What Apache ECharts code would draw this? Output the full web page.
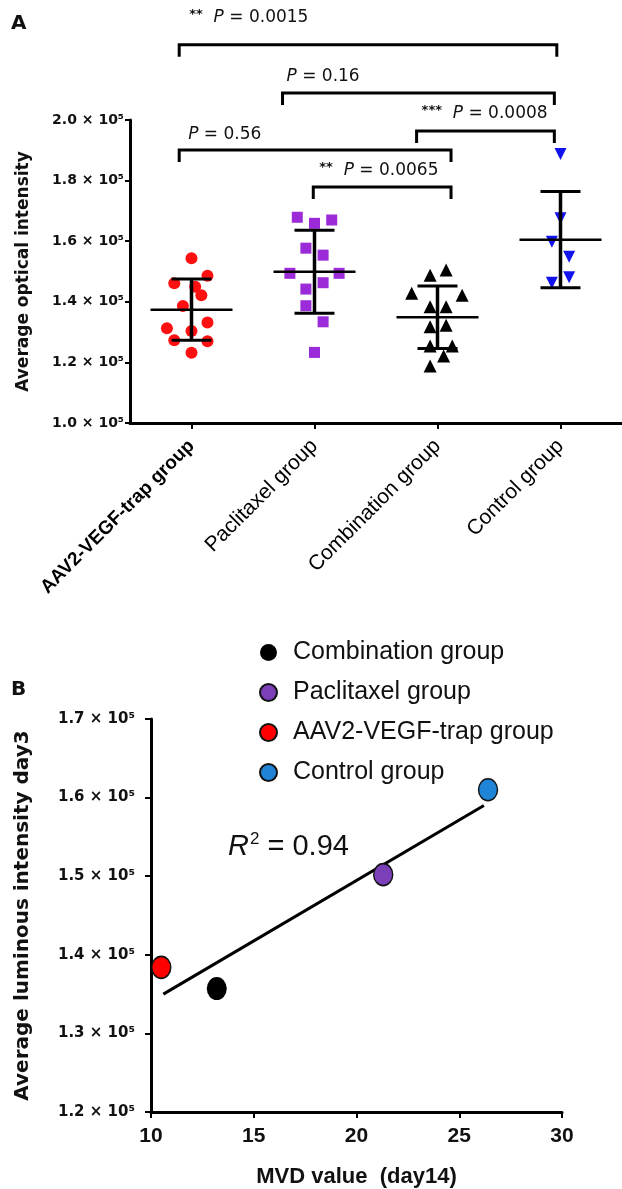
<!DOCTYPE html>
<html><head><meta charset="utf-8">
<script src="https://cdn.jsdelivr.net/npm/echarts@6/dist/echarts.min.js"></script>
<style>html,body{margin:0;padding:0;background:#fff}#c{width:622px;height:1189px}</style>
</head><body><div id="c"></div>
<script>
// ---------- Panel A data ----------
const categories = ['AAV2-VEGF-trap group', 'Paclitaxel group', 'Combination group', 'Control group'];
const aavValues = [1.544, 1.486, 1.461, 1.450, 1.422, 1.386, 1.332, 1.313, 1.304, 1.273, 1.270, 1.232];
const aavJitter = [0, 0.13, -0.14, 0.03, 0.08, -0.07, 0.13, -0.2, 0, -0.14, 0.13, 0];
const pacValues = [1.679, 1.659, 1.670, 1.577, 1.554, 1.494, 1.494, 1.463, 1.442, 1.387, 1.334, 1.233];
const pacJitter = [-0.14, 0, 0.14, -0.07, 0.07, -0.2, 0.2, 0.07, -0.07, -0.07, 0.07, 0];
const comValues = [1.505, 1.488, 1.428, 1.422, 1.384, 1.384, 1.323, 1.318, 1.254, 1.254, 1.221, 1.188];
const comJitter = [0.07, -0.06, -0.21, 0.2, -0.06, 0.07, 0.07, -0.06, -0.06, 0.12, 0.05, -0.06];
const ctlValues = [1.888, 1.676, 1.598, 1.549, 1.481, 1.463];
const ctlJitter = [0, 0, -0.07, 0.07, 0.07, -0.07];
const groupMeans = [1.374, 1.499, 1.349, 1.605];
const groupSD = [0.101, 0.137, 0.103, 0.159];
const yTickStepA = 0.2;
// significance brackets
const bracketFrom = [0, 1, 2, 0, 1];
const bracketTo = [3, 3, 3, 2, 2];
const bracketStars = ['**', '', '***', '', '**'];
const bracketP = ['0.0015', '0.16', '0.0008', '0.56', '0.0065'];

// ---------- Panel B data ----------
const groupsB = ['Combination group', 'Paclitaxel group', 'AAV2-VEGF-trap group', 'Control group'];
const mvdB = [13.2, 21.3, 10.5, 26.4];
const lumB = [1.357, 1.502, 1.384, 1.610];
const fitX = [10.6, 26.2];
const fitY = [1.35, 1.59];
const r2Text = '0.94';

// ---------- layout / style (not data) ----------
const bracketLayout = {
  level: [2.248, 2.089, 1.964, 1.901, 1.779],
  fromShift: [-0.10, -0.26, -0.17, -0.10, -0.01],
  toShift: [-0.03, -0.05, -0.05, 0.11, 0.11],
  textDx: [10, 4, 5, 9, 6],
  textDy: [-27, -16, -17, -15, -16]
};
const colorsA = ['#ff1010', '#9b2ad8', '#000000', '#1212ee'];
const colorsB = { 'Combination group': '#000000', 'Paclitaxel group': '#7b3fb8', 'AAV2-VEGF-trap group': '#ff0000', 'Control group': '#1f84d6' };
const ellipse = 'path://M0,-1A1,1 0 1,1 0,1A1,1 0 1,1 0,-1Z';
const TXT = '#111';

const chart = echarts.init(document.getElementById('c'), null, { renderer: 'canvas' });

function pts(values, jitter, g) { return values.map((v, k) => [g + jitter[k], v]); }

const bracketData = bracketFrom.map((f, i) => [f + bracketLayout.fromShift[i], bracketTo[i] + bracketLayout.toShift[i], bracketLayout.level[i]]);

const series = [];
const symA = [
  { symbol: 'circle', size: 12, rot: 0 },
  { symbol: 'rect', size: 11, rot: 0 },
  { symbol: 'triangle', size: 13, rot: 0 },
  { symbol: 'triangle', size: 12, rot: 180 }
];
[[aavValues, aavJitter], [pacValues, pacJitter], [comValues, comJitter], [ctlValues, ctlJitter]].forEach((pair, g) => {
  series.push({
    type: 'scatter', id: 'A' + g, xAxisIndex: 1, yAxisIndex: 0,
    symbol: symA[g].symbol, symbolSize: symA[g].size, symbolRotate: symA[g].rot,
    itemStyle: { color: colorsA[g], opacity: 1 },
    data: pts(pair[0], pair[1], g), z: 2
  });
});
series.push({
  type: 'custom', id: 'meanSD', xAxisIndex: 1, yAxisIndex: 0, z: 5,
  data: groupMeans.map((m, g) => [g, m, groupSD[g]]),
  encode: { x: 0, y: 1 },
  renderItem: function (params, api) {
    const g = api.value(0), m = api.value(1), s = api.value(2);
    const c = api.coord([g, m]), hi = api.coord([g, m + s]), lo = api.coord([g, m - s]);
    const st = { stroke: '#000', lineWidth: 3 };
    return {
      type: 'group', children: [
        { type: 'line', shape: { x1: c[0] - 41, y1: c[1], x2: c[0] + 41, y2: c[1] }, style: { stroke: '#000', lineWidth: 2.5 } },
        { type: 'line', shape: { x1: c[0], y1: hi[1], x2: c[0], y2: lo[1] }, style: { stroke: '#000', lineWidth: 3.5 } },
        { type: 'line', shape: { x1: c[0] - 20, y1: hi[1], x2: c[0] + 20, y2: hi[1] }, style: st },
        { type: 'line', shape: { x1: c[0] - 20, y1: lo[1], x2: c[0] + 20, y2: lo[1] }, style: st }
      ]
    };
  }
});
series.push({
  type: 'custom', id: 'brackets', xAxisIndex: 1, yAxisIndex: 0, z: 6, clip: false,
  data: bracketData,
  encode: { x: [0, 1], y: 2 },
  renderItem: function (params, api) {
    const i = params.dataIndex;
    const p1 = api.coord([api.value(0), api.value(2)]);
    const p2 = api.coord([api.value(1), api.value(2)]);
    const tip = 12;
    const stars = bracketStars[i] ? '{s|' + bracketStars[i] + '}  ' : '';
    return {
      type: 'group', children: [
        { type: 'polyline', shape: { points: [[p1[0], p1[1] + tip], [p1[0], p1[1]], [p2[0], p2[1]], [p2[0], p2[1] + tip]] }, style: { stroke: '#000', lineWidth: 3, fill: null } },
        {
          type: 'text', x: p1[0] + bracketLayout.textDx[i], y: p1[1] + bracketLayout.textDy[i],
          style: {
            text: stars + '{i|P} = ' + bracketP[i], align: 'left', verticalAlign: 'middle',
            fontFamily: 'DejaVu Sans', fontSize: 17, fill: TXT,
            rich: {
              s: { fontFamily: 'DejaVu Sans', fontSize: 13, fontWeight: 'bold', fill: TXT, padding: [0, 0, 6, 0] },
              i: { fontFamily: 'DejaVu Sans', fontSize: 17, fontStyle: 'italic', fill: TXT }
            }
          }
        }
      ]
    };
  }
});
groupsB.forEach((name, k) => {
  const isBlack = name === 'Combination group';
  series.push({
    type: 'scatter', name: name, xAxisIndex: 2, yAxisIndex: 1,
    symbol: ellipse, symbolSize: isBlack ? [20, 23] : [19, 22],
    itemStyle: { color: colorsB[name], borderColor: '#111', borderWidth: isBlack ? 0 : 1.5, opacity: 1 },
    data: [[mvdB[k], lumB[k]]], z: 4
  });
});
series.push({
  type: 'line', id: 'fit', xAxisIndex: 2, yAxisIndex: 1, showSymbol: false, symbol: 'none',
  lineStyle: { color: '#000', width: 3 }, data: fitX.map((x, k) => [x, fitY[k]]), z: 3
});

const axisLineStyle = { show: true, onZero: false, lineStyle: { color: '#000', width: 3 } };

const option = {
  animation: false,
  backgroundColor: '#fff',
  textStyle: { fontFamily: 'DejaVu Sans' },
  grid: [
    { left: 130, top: 120, width: 495, height: 303 },
    { left: 151, top: 719, width: 411, height: 393 }
  ],
  xAxis: [
    {
      gridIndex: 0, type: 'category', data: categories, boundaryGap: true,
      axisLine: axisLineStyle,
      axisTick: { show: true, alignWithLabel: true, length: 6, lineStyle: { width: 2, color: '#000' } },
      axisLabel: {
        rotate: 45, margin: 20, color: '#000', fontFamily: 'Liberation Sans', fontSize: 21,
        formatter: function (v, i) { return i === 0 ? '{b|' + v + '}' : v; },
        rich: { b: { fontWeight: 'bold', fontFamily: 'Liberation Sans', fontSize: 19, color: '#000' } }
      },
      splitLine: { show: false }
    },
    { gridIndex: 0, type: 'value', min: -0.5, max: 3.5, show: false },
    {
      gridIndex: 1, type: 'value', min: 10, max: 30, interval: 5,
      axisLine: axisLineStyle,
      axisTick: { show: true, length: 6, lineStyle: { width: 2, color: '#000' } },
      axisLabel: { margin: 14, color: TXT, fontFamily: 'Liberation Sans', fontWeight: 'bold', fontSize: 21 },
      splitLine: { show: false },
      name: 'MVD value  (day14)', nameLocation: 'middle', nameGap: 54,
      nameTextStyle: { fontFamily: 'Liberation Sans', fontWeight: 'bold', fontSize: 22, color: TXT }
    }
  ],
  yAxis: [
    {
      gridIndex: 0, type: 'value', min: 1.0, max: 2.0, interval: yTickStepA,
      axisLine: axisLineStyle,
      axisTick: { show: true, length: 5, lineStyle: { width: 2, color: '#000' } },
      axisLabel: { margin: 6, color: TXT, fontFamily: 'DejaVu Sans', fontWeight: 'bold', fontSize: 14,
        formatter: v => v.toFixed(1) + ' × 10⁵' },
      splitLine: { show: false },
      name: 'Average optical intensity', nameLocation: 'middle', nameRotate: 90, nameGap: 98,
      nameTextStyle: { fontFamily: 'DejaVu Sans', fontWeight: 'bold', fontSize: 17, color: TXT }
    },
    {
      gridIndex: 1, type: 'value', min: 1.2, max: 1.7, interval: 0.1,
      axisLine: axisLineStyle,
      axisTick: { show: true, length: 6, lineStyle: { width: 2, color: '#000' } },
      axisLabel: { margin: 16, color: TXT, fontFamily: 'DejaVu Sans', fontWeight: 'bold', fontSize: 15,
        formatter: v => v.toFixed(1) + ' × 10⁵' },
      splitLine: { show: false },
      name: 'Average luminous intensity day3', nameLocation: 'middle', nameRotate: 90, nameGap: 118,
      nameTextStyle: { fontFamily: 'DejaVu Sans', fontWeight: 'bold', fontSize: 20, color: TXT }
    }
  ],
  legend: {
    data: groupsB, orient: 'vertical', left: 254, top: 635, itemWidth: 17, itemHeight: 21, itemGap: 15,
    icon: ellipse, selectedMode: false,
    textStyle: { fontFamily: 'Liberation Sans', fontSize: 25, color: TXT, padding: [0, 0, 0, 11] }
  },
  graphic: [
    { type: 'text', left: 11, top: 14, style: { text: 'A', font: 'bold 20px "DejaVu Sans"', fill: TXT } },
    { type: 'text', left: 11, top: 680, style: { text: 'B', font: 'bold 20px "DejaVu Sans"', fill: TXT } },
    {
      type: 'text', left: 228, top: 831, style: {
        text: '{r|R}{s|2}{n| = ' + r2Text + '}',
        rich: {
          r: { fontFamily: 'Liberation Sans', fontStyle: 'italic', fontSize: 29, fill: TXT },
          s: { fontFamily: 'Liberation Sans', fontSize: 17, fill: TXT, padding: [0, 0, 14, 1] },
          n: { fontFamily: 'Liberation Sans', fontSize: 29, fill: TXT }
        }
      }
    }
  ],
  series: series
};
chart.setOption(option);
</script>
</body></html>
